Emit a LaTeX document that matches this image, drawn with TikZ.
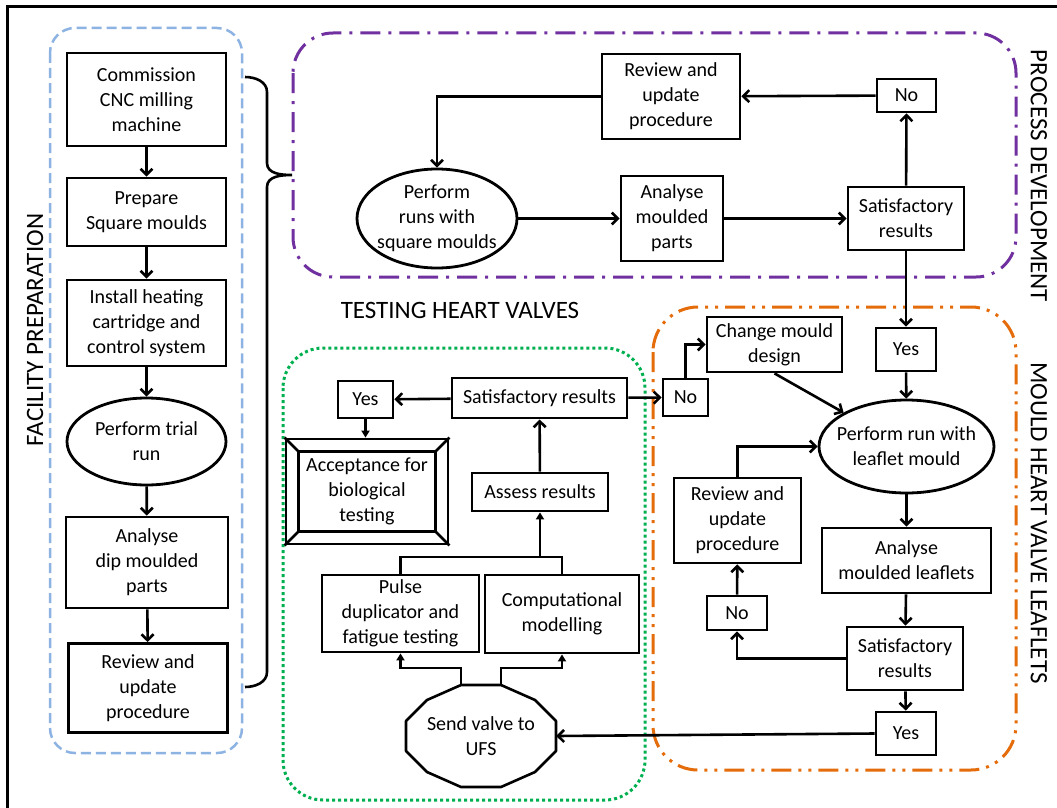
\documentclass[tikz,border=0pt]{standalone}
\usepackage{fontspec}
\setmainfont{Carlito}
\usepackage{xcolor}
\usepackage{tikz}
\usetikzlibrary{arrows.meta, shapes.geometric, calc, positioning}
\definecolor{bluzona}{RGB}{141,179,226}
\definecolor{violazona}{RGB}{112,48,160}
\definecolor{arancionezona}{RGB}{228,108,10}
\definecolor{verdezona}{RGB}{0,176,80}
\tikzset{
    every node/.style={font=\fontsize{20}{25}\selectfont},
    blk/.style 2 args={draw, line width=2.8pt, align=center, inner sep=1pt, minimum width=#1, minimum height=#2},
    ell/.style 2 args={draw, ellipse, line width=2.8pt, align=center, inner sep=-12pt, minimum width=#1, minimum height=#2},
    arr/.style={line width=2.6pt, -{Straight Barb[length=6pt,width=12pt]}},
    arrs/.style={line width=2.6pt, -{Triangle[length=7pt,width=8pt]}},
    lin/.style={line width=2.6pt},
    titolo/.style={font=\fontsize{25}{30}\selectfont},
    zonablu/.style={draw=bluzona, line width=2.5pt, dash pattern=on 10pt off 5pt, rounded corners=25pt},
    zonaviola/.style={draw=violazona, line width=3pt, dash pattern=on 20pt off 8pt on 3pt off 8pt, rounded corners=40pt},
    zonaarancio/.style={draw=arancionezona, line width=3pt, dash pattern=on 20pt off 7pt on 3pt off 7pt on 3pt off 7pt, rounded corners=45pt},
    zonaverde/.style={draw=verdezona, line width=3pt, dash pattern=on 3pt off 3pt, rounded corners=40pt}
}

\begin{document}
\begin{tikzpicture}[x=1pt, y=-1pt]
    \useasboundingbox (0,0) rectangle (1057,808);
    % Cornice esterna
    \draw[line width=3pt] (7,808) -- (7,7) -- (1057,7);

    % Zone tratteggiate
    \draw[zonablu] (50,28) rectangle (242,753);
    \draw[zonaviola] (293,33) rectangle (1016,277);
    \draw[zonaarancio] (653,307) rectangle (1016,770);
    \draw[zonaverde] (283,348) rectangle (645,800);

    % Titoli delle zone
    \node[titolo, rotate=90] (lfac) at (35,330) {FACILITY PREPARATION};
    \node[titolo, rotate=-90] (lproc) at (1039,176) {PROCESS DEVELOPMENT};
    \node[titolo, rotate=-90] (lmould) at (1039,523) {MOULD HEART VALVE LEAFLETS};
    \node[titolo] (ltest) at (460,310) {TESTING HEART VALVES};

    % Preparazione impianto
    \node[blk={159}{93}] (comm) at (146.5,99.5) {Commission\\CNC milling\\machine};
    \node[blk={159}{68}] (prep) at (146.5,212) {Prepare\\Square moulds};
    \node[blk={159}{86}] (inst) at (146.5,323) {Install heating\\cartridge and\\control system};
    \node[ell={159}{87}] (trial) at (146.5,441.5) {Perform trial\\run};
    \node[blk={162}{91}] (dip) at (147,562.5) {Analyse\\dip moulded\\parts};
    \node[blk={159}{89}] (revl) at (148,688) {Review and\\update\\procedure};
    \draw[arr] (comm) -- (prep);
    \draw[arr] (prep) -- (inst);
    \draw[arr] (inst) -- (trial);
    \draw[arr] (trial) -- (dip);
    \draw[arr] (dip) -- (revl);

    % Parentesi graffa
    \draw[lin] (245,77) to[out=0, in=90] (267,92) -- (267,163) to[out=-90, in=180] (292,175)
        (292,175) to[out=180, in=90] (267,187) -- (267,672) to[out=-90, in=0] (245,687);

    % Sviluppo del processo
    \node[blk={138}{85}] (revt) at (671,96.5) {Review and\\update\\procedure};
    \node[blk={59}{33}] (notop) at (906.5,95.5) {No};
    \node[ell={160}{99}] (runs) at (437,218.5) {Perform\\runs with\\square moulds};
    \node[blk={102}{85}] (anmp) at (672,218.5) {Analyse\\moulded\\parts};
    \node[blk={116}{63}] (sattop) at (906,218.5) {Satisfactory\\results};
    \draw[arr] (revt.west) -| (runs.north);
    \draw[arr] (notop) -- (revt);
    \draw[arr] (sattop) -- (notop);
    \draw[arr] (runs) -- (anmp);
    \draw[arr] (anmp) -- (sattop);

    % Stampo dei lembi
    \node[blk={135}{55}] (chg) at (774.5,344.5) {Change mould\\design};
    \node[blk={60}{43}] (yesu) at (906,349.5) {Yes};
    \node[blk={45}{37}] (nol) at (685.5,397.5) {No};
    \node[ell={175}{93}] (leaf) at (906.5,446.5) {Perform run with\\leaflet mould};
    \node[blk={127}{85}] (revo) at (737.5,520.5) {Review and\\update\\procedure};
    \node[blk={169}{65}] (anml) at (906.5,560.5) {Analyse\\moulded leaflets};
    \node[blk={60}{34}] (nolo) at (737,613) {No};
    \node[blk={116}{63}] (satl) at (905,658.5) {Satisfactory\\results};
    \node[blk={60}{43}] (yesl) at (906,733.5) {Yes};
    \draw[arr] (sattop) -- (yesu);
    \draw[arr] (yesu) -- (leaf);
    \draw[arr] (chg.south) -- (leaf.north west);
    \draw[arr] (nol.north) |- (chg.west);
    \draw[arr] (revo.north) |- (leaf.west);
    \draw[arr] (nolo) -- (revo);
    \draw[arr] (satl.west) -| (nolo.south);
    \draw[arr] (leaf) -- (anml);
    \draw[arr] (anml) -- (satl);
    \draw[arr] (satl) -- (yesl);

    % Prove sulle valvole
    \node[blk={55}{37}] (yesg) at (365.5,399.5) {Yes};
    \node[blk={175}{40}] (satg) at (539.5,398) {Satisfactory results};
    \node[blk={162}{105}] (acc) at (367,491.5) {Acceptance for\\biological\\testing};
    \draw[lin] ($(acc.north west)+(14,14)$) rectangle ($(acc.south east)+(-14,-14)$);
    \draw[lin] (acc.north west) -- ++(14,14) (acc.north east) -- ++(-14,14)
        (acc.south west) -- ++(14,-14) (acc.south east) -- ++(-14,-14);
    \node[blk={136}{38}] (assess) at (540,492) {Assess results};
    \node[blk={157}{77}] (pulse) at (400.5,613.5) {Pulse\\duplicator and\\fatigue testing};
    \node[blk={154}{78}] (comp) at (562,614) {Computational\\modelling};
    \node[align=center, minimum width=150, minimum height=102, inner sep=0pt] (ufs) at (481,736) {Send valve to\\UFS};
    \draw[lin, line join=round] (ufs.center) ++(-20,-51) -- ++(40,0) -- ++(34,15) -- ++(21,21)
        -- ++(0,30) -- ++(-21,21) -- ++(-34,15) -- ++(-40,0) -- ++(-34,-15) -- ++(-21,-21)
        -- ++(0,-30) -- ++(21,-21) -- cycle;
    \coordinate (ufsl) at ($(ufs.north)+(-20,0)$);
    \coordinate (ufsr) at ($(ufs.north)+(20,0)$);
    \coordinate (jn) at (540,557);
    \draw[arr] (satg) -- (yesg);
    \draw[arrs] (yesg) -- (yesg |- acc.north);
    \draw[arr] (assess) -- (satg);
    \draw[lin] (pulse.north) |- (jn) -| (comp.north);
    \draw[arrs] (jn) -- (assess.south);
    \draw[arrs] (ufsl) -- ++(0,-17) -| (pulse.south);
    \draw[arrs] (ufsr) -- ++(0,-17) -| (comp.south);
    \draw[arr] (satg) -- (nol);
    \draw[arr] (yesl.west) -- (ufs.east);
\end{tikzpicture}
\end{document}
